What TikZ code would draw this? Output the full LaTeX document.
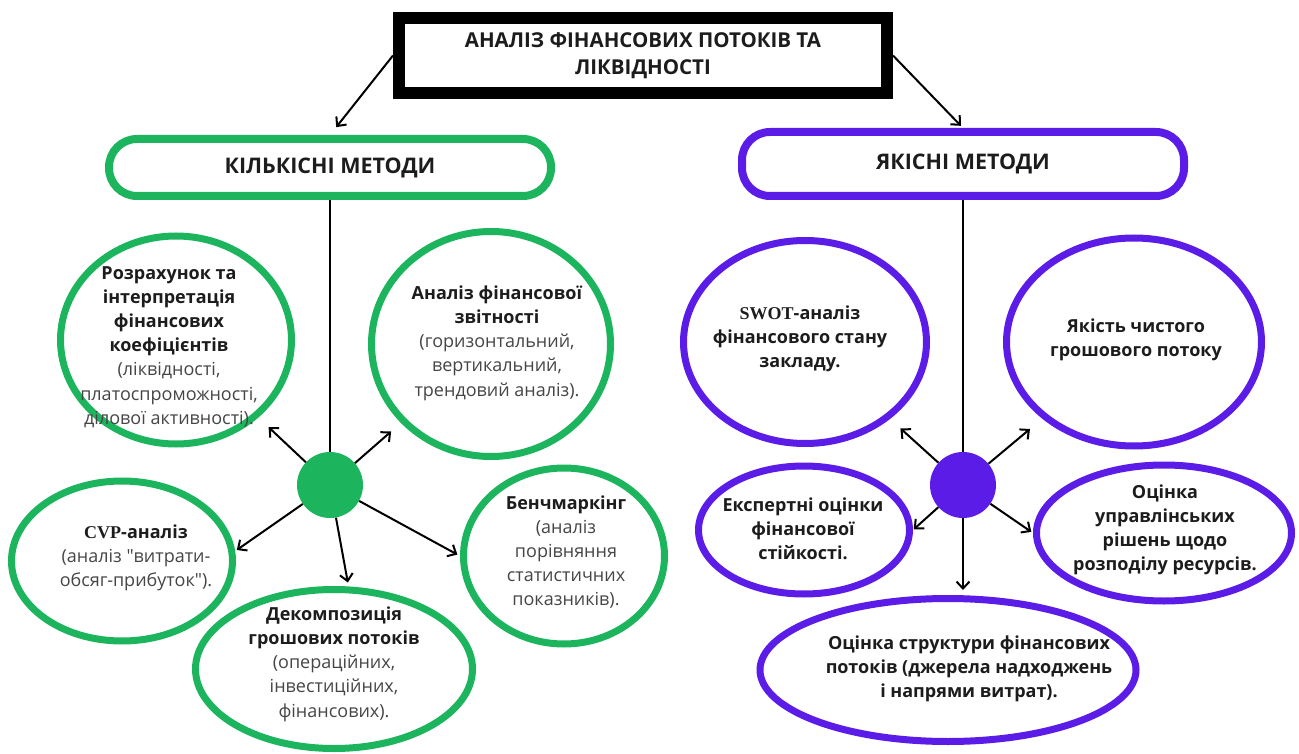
\documentclass[tikz,border=0pt]{standalone}
\usepackage{fontspec}
\setmainfont{Open Sans}[Ligatures=TeXOff]
\newfontfamily\timesfont{Liberation Serif}
\usepackage{tikz}
\usetikzlibrary{arrows.meta,positioning,calc,shapes.geometric}
\definecolor{leaf}{HTML}{1DB45E}
\definecolor{iris}{HTML}{5C1CE8}
\definecolor{ink}{HTML}{1C1C1C}
\definecolor{note}{HTML}{454545}

\begin{document}
\begin{tikzpicture}[x=1pt, y=-1pt,
  headbox/.style={draw=#1, line width=8pt, rounded corners=28pt, minimum width=442pt,
    font=\fontsize{21.5}{26}\selectfont\bfseries, text=ink},
  bubble/.style={ellipse, draw=#1, line width=7pt, inner sep=0pt},
  txt/.style={align=center, font=\fontsize{18}{24.2}\selectfont, text=ink},
  btxt/.style={txt, font=\fontsize{18}{24.2}\selectfont\bfseries},
  hub/.style={circle, fill=#1, minimum size=66pt, inner sep=0pt},
  link/.style={line width=2pt, -{Straight Barb[length=7pt,width=13pt]}},
  stem/.style={line width=2pt}]
  \useasboundingbox (0,0) rectangle (1299,754);
  % title
  \node[draw=black, line width=12pt, minimum width=488pt, minimum height=75pt,
        align=center, font=\fontsize{20.5}{26.5}\selectfont\bfseries, text=ink]
        (top) at (643,55.5) {АНАЛІЗ ФІНАНСОВИХ ПОТОКІВ ТА\\ЛІКВІДНОСТІ};
  % the two groups
  \node[headbox=leaf, minimum height=57pt] (kil) at (330,167.5) {КІЛЬКІСНІ МЕТОДИ};
  \node[headbox=iris, minimum height=64pt] (yak) at (963,164) {ЯКІСНІ МЕТОДИ};
  \node[hub=leaf] (gdot) at (330,485) {};
  \node[hub=iris] (pdot) at (963,485) {};
  \draw[stem] (kil.south) -- (gdot);
  \draw[stem] (yak.south) -- (pdot);
  \draw[link, shorten >=10pt] (top.west) -- (kil.north);
  \draw[link, shorten >=3pt] (top.east) -- (yak.north);
  % ellipses: name/x/y/width/height/colour
  \foreach \n/\x/\y/\w/\h/\c in {r1/176/340/231/208/leaf, r2/491/344/239/225/leaf,
      cvp/122/561/221/160/leaf, dec/334/669/277/159/leaf, bench/564/556/201/176/leaf,
      swot/805/342/243/203/iris, qual/1134/342/255/208/iris, expert/804/530/211/128/iris,
      mgmt/1164/533/255/136/iris, struct/948/670/376/143/iris}{
    \node[bubble=\c, minimum width=\w pt, minimum height=\h pt] (\n) at (\x,\y) {};}
  % texts
  \node[txt] (r1t) at (169,347) {\textbf{Розрахунок та}\\\textbf{інтерпретація}\\
    \textbf{фінансових}\\\textbf{коефіцієнтів}\\\textcolor{note}{(ліквідності,}\\
    \textcolor{note}{платоспроможності,}\\\textcolor{note}{ділової активності).}};
  \node[txt] (r2t) at (497,343) {\textbf{Аналіз фінансової}\\\textbf{звітності}\\
    \textcolor{note}{(горизонтальний,}\\\textcolor{note}{вертикальний,}\\
    \textcolor{note}{трендовий аналіз).}};
  \node[txt] (cvpt) at (136,558) {\textbf{{\timesfont CVP}-аналіз}\\
    \textcolor{note}{(аналіз "витрати-}\\\textcolor{note}{обсяг-прибуток").}};
  \node[txt] (dect) at (334,664) {\textbf{Декомпозиція}\\\textbf{грошових потоків}\\
    \textcolor{note}{(операційних,}\\\textcolor{note}{інвестиційних,}\\
    \textcolor{note}{фінансових).}};
  \node[txt] (bencht) at (566,552) {\textbf{Бенчмаркінг}\\\textcolor{note}{(аналіз}\\
    \textcolor{note}{порівняння}\\\textcolor{note}{статистичних}\\
    \textcolor{note}{показників).}};
  \node[btxt] (swott) at (800,339) {{\timesfont SWOT}-аналіз\\фінансового стану\\закладу.};
  \node[btxt] (qualt) at (1136,340) {Якість чистого\\грошового потоку};
  \node[btxt] (expertt) at (803,529) {Експертні оцінки\\фінансової\\стійкості.};
  \node[btxt] (mgmtt) at (1165,530) {Оцінка\\управлінських\\рішень щодо\\розподілу ресурсів.};
  \node[btxt] (structt) at (969,669)
    {Оцінка структури фінансових\\потоків (джерела надходжень\\і напрями витрат).};
  % arrows out of the hubs
  \foreach \t/\s in {r1/14pt, r2/13pt, cvp.5/2pt, dec.80/4pt, bench.west/3pt}
    \draw[link, shorten >=\s] (gdot) -- (\t);
  \foreach \t/\s in {swot/14pt, qual/16pt, expert.east/1pt, mgmt.west/2pt}
    \draw[link, shorten >=\s] (pdot) -- (\t);
  \draw[link, shorten >=5pt] (pdot) -- (pdot |- struct.north);
\end{tikzpicture}
\end{document}
